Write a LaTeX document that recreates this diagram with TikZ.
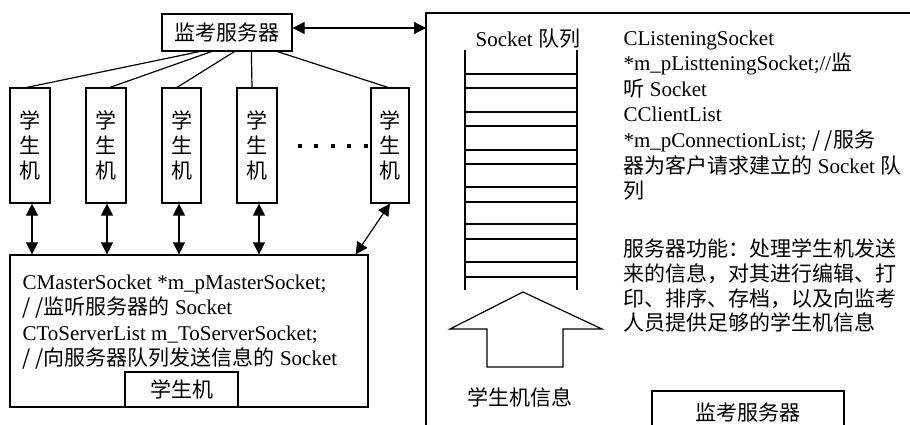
\documentclass[tikz,border=0pt]{standalone}
\usepackage{fontspec}
\setmainfont{Liberation Serif}
\newfontfamily\cjk{Noto Sans CJK SC}
\usetikzlibrary{arrows.meta,calc}
\begin{document}
\begin{tikzpicture}[x=1pt,y=-1pt,line width=1.2pt,
  box/.style={draw,inner sep=0pt,font=\fontsize{21}{25}\selectfont\cjk,align=center},
  txt/.style={inner sep=0pt,anchor=base west,font=\fontsize{21}{25}\selectfont},
  tipb/.style={{Triangle[length=12pt,width=12pt]}-{Triangle[length=12pt,width=12pt]}}]
\useasboundingbox (0,0) rectangle (910,425);

% top server
\node[box,minimum width=130pt,minimum height=37pt] (server) at (227,32.5) {监考服务器};

% student machines
\node[box,minimum width=40pt,minimum height=115pt] (s1) at (30,145.5) {学\\生\\机};
\node[box,minimum width=40pt,minimum height=115pt] (s2) at (106,145.5) {学\\生\\机};
\node[box,minimum width=39pt,minimum height=115pt] (s3) at (181.5,145.5) {学\\生\\机};
\node[box,minimum width=40pt,minimum height=115pt] (s4) at (257,145.5) {学\\生\\机};
\node[box,minimum width=38pt,minimum height=115pt] (s5) at (390,145.5) {学\\生\\机};

\foreach \x in {300,316,333,349,366} \fill (\x-1.7,144.3) rectangle ++(3.4,3.4);

% lines server -> students
\draw ([xshift=38pt]server.south west) -- ([xshift=-3pt]s1.north);
\draw ([xshift=50pt]server.south west) -- ([xshift=4pt]s2.north);
\draw ([xshift=73pt]server.south west) -- ([xshift=-4.5pt]s3.north);
\draw ([xshift=90pt]server.south west) -- ([xshift=-5pt]s4.north);
\draw ([xshift=116pt]server.south west) -- ([xshift=-2pt]s5.north);

% client box
\node[draw,inner sep=0pt,minimum width=358pt,minimum height=152pt] (client) at (189,331) {};
\node[txt] (c1) at (22,289.5) {CMasterSocket *m\_pMasterSocket;};
\node[txt] (c2) at (22,314.5) {{\cjk / /监听服务器的} Socket};
\node[txt] (c3) at (22,340) {CToServerList m\_ToServerSocket;};
\node[txt] (c4) at (22,365) {{\cjk / /向服务器队列发送信息的} Socket};
\node[box,minimum width=113pt,minimum height=35pt] (inner) at (181.5,389.5) {学生机};

% arrows students <-> client
\draw[tipb] ([xshift=2pt]s1.south) -- ([xshift=2pt]s1.south |- client.north);
\draw[tipb] ([xshift=1pt]s2.south) -- ([xshift=1pt]s2.south |- client.north);
\draw[tipb] ([xshift=-2.5pt]s3.south) -- ([xshift=-2.5pt]s3.south |- client.north);
\draw[tipb] ([xshift=2pt]s4.south) -- ([xshift=2pt]s4.south |- client.north);
\draw[tipb] ([xshift=-13pt]client.north east) -- (s5.south);

% right big area
\coordinate (rb) at (426,28);
\draw (910,13) -- (426,13) -- (426,426);
\draw[tipb] (server.east |- rb) -- (rb);

% socket queue
\node[txt] (qlabel) at (475,47) {Socket {\cjk 队列}};
\draw (465,50) -- (465,290);
\draw (577,50) -- (577,290);
\foreach \y in {74,88,112,126,150,164,187,202,224,239,262,277}
  \draw (465,\y) -- (577,\y);

% big up arrow
\draw (523,292) -- (602,329) -- (563,329) -- (563,367) -- (487,367) -- (487,329) -- (450,329) -- cycle;
\node[font=\fontsize{21}{25}\selectfont\cjk,inner sep=0pt] (info) at (520,397) {学生机信息};

% right texts
\node[txt] (r1) at (623,46) {CListeningSocket};
\node[txt] (r2) at (623,71) {*m\_pListteningSocket;//{\cjk 监}};
\node[txt] (r3) at (623,97) {{\cjk 听} Socket};
\node[txt] (r4) at (623,122) {CClientList};
\node[txt] (r5) at (623,148) {*m\_pConnectionList; {\cjk / /服务}};
\node[txt] (r6) at (623,173) {{\cjk 器为客户请求建立的} Socket {\cjk 队}};
\node[txt] (r7) at (623,198) {{\cjk 列}};

\node[txt,font=\fontsize{21}{25}\selectfont\cjk] (f1) at (623,256) {服务器功能：处理学生机发送};
\node[txt,font=\fontsize{21}{25}\selectfont\cjk] (f2) at (623,281) {来的信息，对其进行编辑、打};
\node[txt,font=\fontsize{21}{25}\selectfont\cjk] (f3) at (623,306) {印、排序、存档，以及向监考};
\node[txt,font=\fontsize{21}{25}\selectfont\cjk] (f4) at (623,330) {人员提供足够的学生机信息};

% bottom server box (cut by the edge)
\draw (652,426) -- (652,391) -- (844,391) -- (844,426);
\node[font=\fontsize{21}{25}\selectfont\cjk,inner sep=0pt] (srv2) at (748,413) {监考服务器};
\end{tikzpicture}
\end{document}
